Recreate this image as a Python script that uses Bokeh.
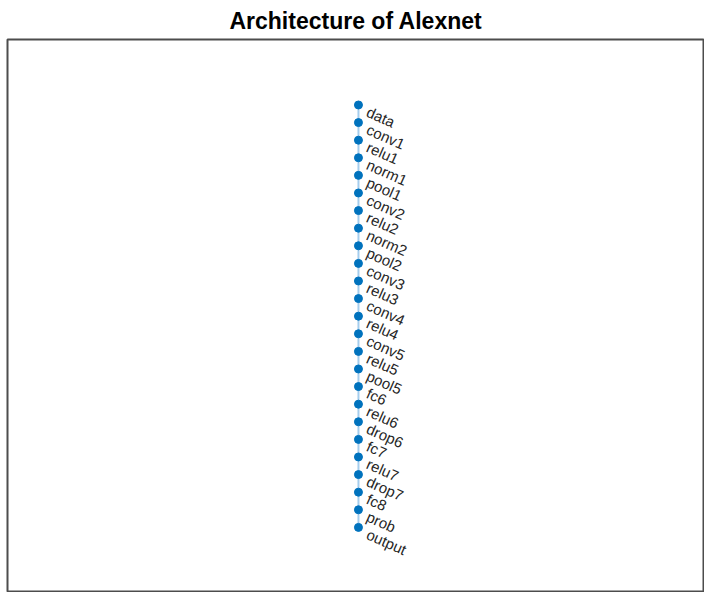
from bokeh.plotting import figure
from bokeh.models import Range1d, ColumnDataSource
from bokeh.core.properties import value
from bokeh.embed import file_html
from bokeh.resources import INLINE
import math

layers = ["data", "conv1", "relu1", "norm1", "pool1", "conv2", "relu2", "norm2",
          "pool2", "conv3", "relu3", "conv4", "relu4", "conv5", "relu5", "pool5",
          "fc6", "relu6", "drop6", "fc7", "relu7", "drop7", "fc8", "prob", "output"]
order = list(range(1, len(layers) + 1))
xpos = [1] * len(layers)

title_text = "Architecture of Alexnet"

src = ColumnDataSource(dict(x=xpos, y=order, name=layers))

p = figure(width=704, height=592, output_backend="svg", toolbar_location=None,
           x_axis_location=None, y_axis_location=None,
           x_range=Range1d(0, 1.986), y_range=Range1d(28.7, -2.72),
           min_border_left=7, min_border_right=0, min_border_bottom=0, min_border_top=0)
p.grid.visible = False
p.background_fill_color = "white"
p.border_fill_color = "white"
p.outline_line_color = "#4d4d4d"
p.outline_line_width = 2

p.title.text = title_text
p.title.align = "center"
p.title.text_font = "Liberation Sans"
p.title.text_font_size = "23px"
p.title.text_font_style = "bold"
p.title.text_color = "black"
p.title.standoff = 11

p.line("x", "y", source=src, line_color="#7fb8e6", line_alpha=0.7, line_width=2)
p.scatter("x", "y", source=src, size=8, fill_color="#0072BD", line_color="#0072BD")
p.text("x", "y", text="name", source=src, angle=-24 * math.pi / 180,
       x_offset=9, y_offset=6, text_align="left", text_baseline="middle",
       text_font=value("Liberation Sans"), text_font_size="15px", text_color="#262626")

open("out.html", "w").write(file_html(p, INLINE))
